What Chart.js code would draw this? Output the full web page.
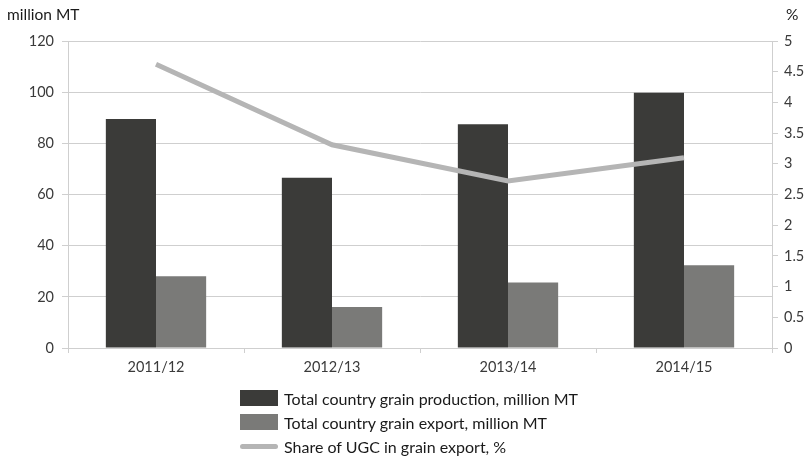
<!DOCTYPE html>
<html>
<head>
<meta charset="utf-8">
<script src="https://cdn.jsdelivr.net/npm/chart.js@4/dist/chart.umd.min.js"></script>
<style>
    body { margin: 0; background: #fff; font-family: Lato, sans-serif; }
    #wrap { position: relative; width: 809px; height: 456px; }
    #chart { position: absolute; left: 0; top: 0; }
    .axis-title { position: absolute; top: 5px; font-size: 15.5px; color: #1a1a1a; }
    #legend { position: absolute; left: 240px; top: 386px; font-size: 16px; color: #1a1a1a; }
    .item { height: 24px; display: flex; align-items: center; }
    .swatch { width: 38px; height: 16px; margin-right: 6px; }
    .swatch.line { height: 5px; border-radius: 3px; }
</style>
</head>
<body>
<div id="wrap">
    <canvas id="chart" width="809" height="456"></canvas>
    <div class="axis-title" style="left:7px">million MT</div>
    <div class="axis-title" style="left:786px">%</div>
    <div id="legend"></div>
</div>
<script>
// --- Data ---
const seasons = ['2011/12', '2012/13', '2013/14', '2014/15'];
const production = [89.5, 66.5, 87.5, 99.8];   // million MT
const exports = [28.0, 16.0, 25.6, 32.3];      // million MT
const ugcShare = [4.62, 3.31, 2.72, 3.1];      // %

const seriesNames = [
    'Total country grain production, million MT',
    'Total country grain export, million MT',
    'Share of UGC in grain export, %'
];

const gridColor = '#cfcfcf';
const tickFont = { family: 'Lato', size: 14.5 };

const ctx = document.getElementById('chart').getContext('2d');
const chart = new Chart(ctx, {
    type: 'bar',
    data: {
        labels: seasons,
        datasets: [
            {
                label: seriesNames[0],
                data: production,
                backgroundColor: '#3b3b39',
                yAxisID: 'y',
                order: 2,
                barPercentage: 1,
                categoryPercentage: 0.57
            },
            {
                label: seriesNames[1],
                data: exports,
                backgroundColor: '#7a7a78',
                yAxisID: 'y',
                order: 2,
                barPercentage: 1,
                categoryPercentage: 0.57
            },
            {
                type: 'line',
                label: seriesNames[2],
                data: ugcShare,
                borderColor: '#b5b5b5',
                borderWidth: 5,
                pointRadius: 0,
                tension: 0,
                yAxisID: 'y1',
                order: 0
            }
        ]
    },
    options: {
        responsive: false,
        animation: false,
        layout: { padding: { top: 41, bottom: 78, left: 0, right: 0 } },
        plugins: {
            legend: { display: false },
            tooltip: { enabled: false }
        },
        scales: {
            x: {
                grid: {
                    display: true,
                    drawOnChartArea: false,
                    tickLength: 5,
                    color: gridColor,
                    offset: true
                },
                border: { color: gridColor },
                ticks: { font: tickFont, color: '#3a3a3a', padding: 6 },
                afterFit: s => { s.height = 30; }
            },
            y: {
                position: 'left',
                min: 0,
                max: 120,
                ticks: { stepSize: 20, font: tickFont, color: '#3a3a3a', padding: 8 },
                grid: { color: gridColor, tickLength: 6 },
                border: { color: gridColor },
                afterFit: s => { s.width = 68; }
            },
            y1: {
                position: 'right',
                min: 0,
                max: 5,
                ticks: {
                    stepSize: 0.5,
                    font: tickFont,
                    color: '#3a3a3a',
                    padding: 6,
                    callback: v => String(v)
                },
                grid: { drawOnChartArea: false, color: gridColor, tickLength: 6 },
                border: { color: gridColor },
                afterFit: s => { s.width = 37; }
            }
        }
    }
});

// --- HTML legend (single column, as in the original) ---
const legendEl = document.getElementById('legend');
chart.data.datasets.forEach(ds => {
    const item = document.createElement('div');
    item.className = 'item';
    const sw = document.createElement('div');
    if (ds.type === 'line') {
        sw.className = 'swatch line';
        sw.style.background = ds.borderColor;
    } else {
        sw.className = 'swatch';
        sw.style.background = ds.backgroundColor;
    }
    const txt = document.createElement('span');
    txt.textContent = ds.label;
    item.appendChild(sw);
    item.appendChild(txt);
    legendEl.appendChild(item);
});
</script>
</body>
</html>
